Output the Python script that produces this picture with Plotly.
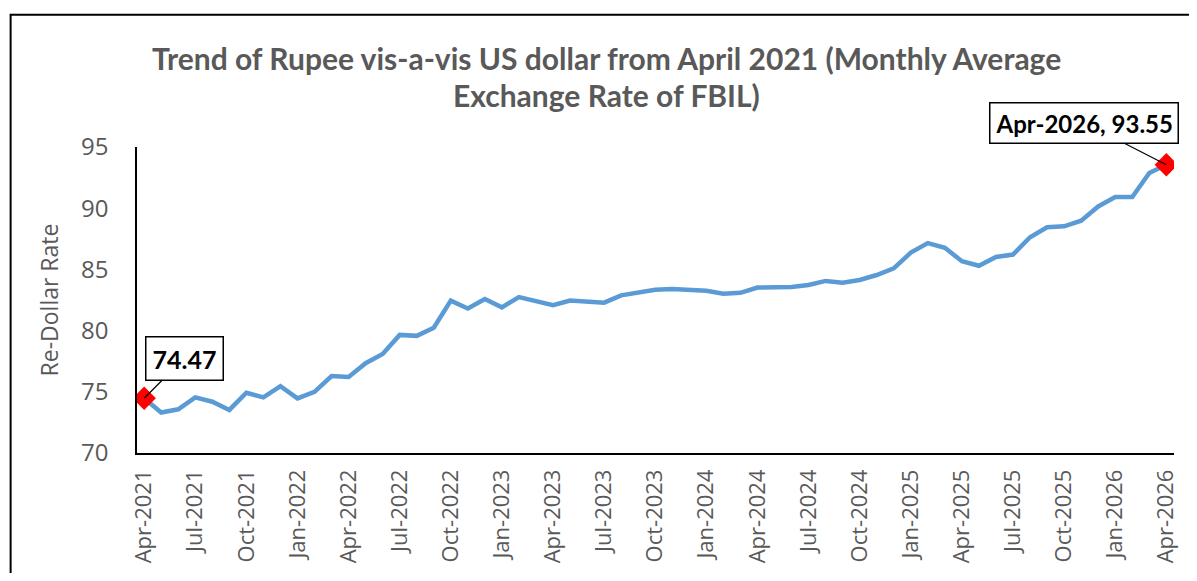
import plotly.graph_objects as go

months = [
    "Apr-2021", "May-2021", "Jun-2021", "Jul-2021", "Aug-2021", "Sep-2021",
    "Oct-2021", "Nov-2021", "Dec-2021", "Jan-2022", "Feb-2022", "Mar-2022",
    "Apr-2022", "May-2022", "Jun-2022", "Jul-2022", "Aug-2022", "Sep-2022",
    "Oct-2022", "Nov-2022", "Dec-2022", "Jan-2023", "Feb-2023", "Mar-2023",
    "Apr-2023", "May-2023", "Jun-2023", "Jul-2023", "Aug-2023", "Sep-2023",
    "Oct-2023", "Nov-2023", "Dec-2023", "Jan-2024", "Feb-2024", "Mar-2024",
    "Apr-2024", "May-2024", "Jun-2024", "Jul-2024", "Aug-2024", "Sep-2024",
    "Oct-2024", "Nov-2024", "Dec-2024", "Jan-2025", "Feb-2025", "Mar-2025",
    "Apr-2025", "May-2025", "Jun-2025", "Jul-2025", "Aug-2025", "Sep-2025",
    "Oct-2025", "Nov-2025", "Dec-2025", "Jan-2026", "Feb-2026", "Mar-2026",
    "Apr-2026",
]

rates = [
    74.47, 73.31, 73.57, 74.54, 74.19, 73.52,
    74.92, 74.54, 75.46, 74.46, 75.00, 76.29,
    76.21, 77.34, 78.09, 79.65, 79.57, 80.24,
    82.45, 81.80, 82.58, 81.90, 82.74, 82.39,
    82.07, 82.45, 82.34, 82.28, 82.88, 83.15,
    83.33, 83.39, 83.36, 83.25, 83.01, 83.09,
    83.52, 83.52, 83.57, 83.73, 84.06, 83.92,
    84.14, 84.54, 85.08, 86.37, 87.15, 86.77,
    85.67, 85.30, 86.02, 86.21, 87.63, 88.44,
    88.52, 88.98, 90.14, 90.91, 90.91, 92.88,
    93.55,
]

tick_labels = months[::3]
tick_positions = list(range(0, len(months), 3))
idx = list(range(len(months)))

title_line1 = "Trend of Rupee vis-a-vis US dollar from April 2021 (Monthly Average"
title_line2 = "Exchange Rate of FBIL)"
y_title = "Re-Dollar Rate"

gray = "#595959"

fig = go.Figure()
fig.add_trace(go.Scatter(
    x=idx, y=rates, mode="lines",
    line=dict(color="#5B9BD5", width=4.5),
    hoverinfo="skip", showlegend=False,
))
end_idx = [idx[0], idx[-1]]
end_vals = [rates[0], rates[-1]]
fig.add_trace(go.Scatter(
    x=end_idx, y=end_vals, mode="markers",
    marker=dict(symbol="diamond", color="#FF0000", size=18),
    showlegend=False,
))

# page offset (body margin) is 8px
OFF = 8
W, H = 1181, 565
# desired page-coordinate plot box: x 137..1179, y 147..457
L = 137 - OFF
T = 147 - OFF
R = OFF + W - 1179
B = OFF + H - 457
pw, ph = W - L - R, H - T - B

def px_x(p):
    return (p - OFF - L) / pw

def px_y(p):
    return (OFF + H - B - p) / ph

fig.update_layout(
    width=W, height=H,
    margin=dict(l=L, r=R, t=T, b=B),
    paper_bgcolor="white", plot_bgcolor="white",
    font=dict(family="Open Sans", color=gray),
    xaxis=dict(
        range=[-0.42, 60.45],
        tickmode="array", tickvals=tick_positions, ticktext=tick_labels,
        tickangle=-90, tickfont=dict(size=22, color=gray),
        showgrid=False, zeroline=False,
        showline=True, linecolor="black", linewidth=1.5,
        ticks="", ticklabelstandoff=6,
    ),
    yaxis=dict(
        range=[70, 95], tickvals=[70, 75, 80, 85, 90, 95],
        tickfont=dict(size=24, color=gray),
        showgrid=False, zeroline=False,
        showline=True, linecolor="black", linewidth=1.5,
        ticks="", ticklabelstandoff=22,
        title=dict(text=y_title, font=dict(size=23, color=gray), standoff=16),
    ),
    shapes=[dict(
        type="rect", xref="paper", yref="paper",
        x0=px_x(10), x1=px_x(1230), y0=px_y(620), y1=px_y(13),
        line=dict(color="black", width=2), fillcolor="rgba(0,0,0,0)",
        layer="below",
    )],
    annotations=[
        dict(text=title_line1, xref="paper", yref="paper",
             x=px_x(609), y=px_y(57), xanchor="center", yanchor="middle",
             showarrow=False,
             font=dict(family="Lato", size=30, color=gray, weight="bold")),
        dict(text=title_line2, xref="paper", yref="paper",
             x=px_x(609), y=px_y(94), xanchor="center", yanchor="middle",
             showarrow=False,
             font=dict(family="Lato", size=30, color=gray, weight="bold")),
        dict(text=f"{rates[0]:.2f}", x=idx[0], y=rates[0],
             ax=40, ay=-40, showarrow=True, arrowhead=0, arrowwidth=1.2,
             arrowcolor="black", bgcolor="white", bordercolor="black",
             borderwidth=1.5, borderpad=6,
             font=dict(family="Lato", size=25, color="black", weight="bold")),
        dict(text=f"{months[-1]}, {rates[-1]:.2f}", x=idx[-1], y=rates[-1],
             ax=-82, ay=-42, showarrow=True, arrowhead=0, arrowwidth=1.2,
             arrowcolor="black", bgcolor="white", bordercolor="black",
             borderwidth=1.5, borderpad=5,
             font=dict(family="Lato", size=24, color="black", weight="bold")),
    ],
)

fig.write_html("out.html")
